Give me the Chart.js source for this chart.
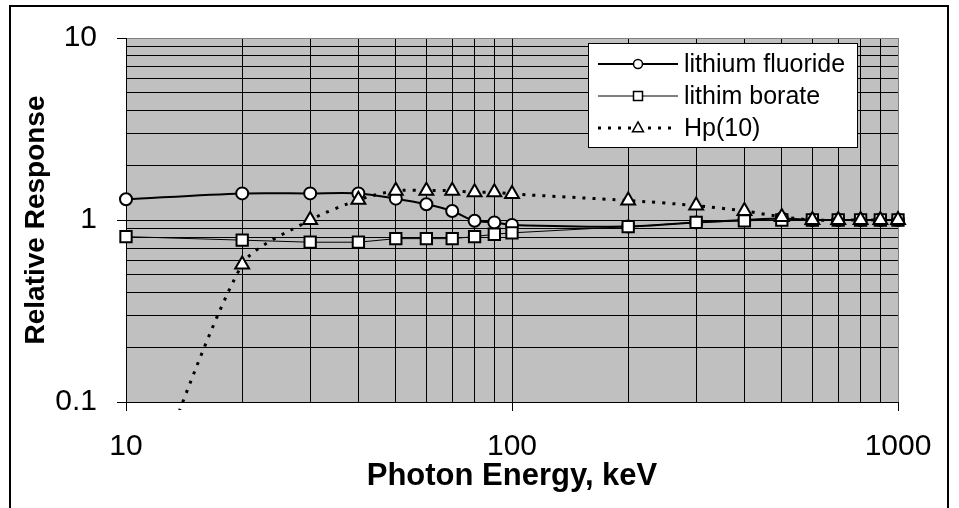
<!DOCTYPE html>
<html>
<head>
<meta charset="utf-8">
<script src="https://cdn.jsdelivr.net/npm/chart.js@4/dist/chart.umd.min.js"></script>
<style>
html, body { margin: 0; padding: 0; background: #fff; }
</style>
</head>
<body>
<canvas id="response" width="959" height="508"></canvas>
<script>
// photon energies (keV) and relative responses
const energies = [10, 20, 30, 40, 50, 60, 70, 80, 90, 100, 200, 300, 400, 500, 600, 700, 800, 900, 1000];
const lithiumFluoride = [1.30, 1.40, 1.40, 1.40, 1.31, 1.22, 1.12, 0.99, 0.97, 0.94, 0.92, 0.97, 1.00, 1.02, 1.00, 1.00, 1.00, 1.00, 1.00];
const lithimBorate = [0.81, 0.775, 0.755, 0.755, 0.79, 0.79, 0.79, 0.81, 0.835, 0.85, 0.92, 0.97, 0.99, 1.00, 1.00, 1.00, 1.00, 1.00, 1.00];
const hp10 = [0.015, 0.57, 1.00, 1.29, 1.45, 1.45, 1.45, 1.42, 1.42, 1.39, 1.28, 1.20, 1.12, 1.04, 1.00, 1.00, 1.00, 1.00, 1.00];
const seriesNames = ['lithium fluoride', 'lithim borate', 'Hp(10)'];
const xTickLabels = ['10', '100', '1000'];
const yTickLabels = ['0.1', '1', '10'];

const FONT = '"Liberation Sans", Arial, sans-serif';

// 1..9 x each decade, like the excel minor grid
function decadeTicks(min, max) {
    const out = [];
    for (let e = Math.round(Math.log10(min)); e < Math.round(Math.log10(max)); e++) {
        const base = Math.pow(10, e);
        for (let k = 1; k <= 9; k++) out.push(k === 1 ? base : k * base);
    }
    out.push(max);
    return out;
}
const isPow10 = v => Math.abs(Math.log10(v) - Math.round(Math.log10(v))) < 1e-9;

const toPoints = ys => energies.map((x, i) => ({ x: x, y: ys[i] }));

const marker = (ctx, style, x, y, r) => {
    ctx.beginPath();
    if (style === 'circle') {
        ctx.arc(x, y, r, 0, Math.PI * 2);
    } else if (style === 'rect') {
        ctx.rect(x - r, y - r, 2 * r, 2 * r);
    } else {
        ctx.moveTo(x, y - r * 1.1);
        ctx.lineTo(x + r, y + r * 0.7);
        ctx.lineTo(x - r, y + r * 0.7);
        ctx.closePath();
    }
    ctx.fill();
    ctx.stroke();
};

const framePlugin = {
    id: 'frame',
    beforeDraw(chart) {
        const { ctx, chartArea: a } = chart;
        ctx.save();
        ctx.fillStyle = '#fff';
        ctx.fillRect(0, 0, chart.width, chart.height);
        ctx.fillStyle = '#c0c0c0';
        ctx.fillRect(a.left, a.top, a.right - a.left, a.bottom - a.top);
        ctx.restore();
    },
    afterDraw(chart) {
        const ctx = chart.ctx;
        ctx.save();
        // outer chart border
        ctx.strokeStyle = '#000';
        ctx.lineWidth = 2;
        ctx.strokeRect(10, 6, 938, 520);

        // legend box
        ctx.fillStyle = '#fff';
        ctx.fillRect(588, 43, 269, 104);
        ctx.lineWidth = 1;
        ctx.strokeRect(588.5, 43.5, 269, 104);
        const legendStyles = [
            { w: 2, dash: [], shape: 'circle', r: 4.5 },
            { w: 1, dash: [], shape: 'rect', r: 4.5 },
            { w: 3, dash: [3, 7], shape: 'triangle', r: 5.5 }
        ];
        seriesNames.forEach((name, i) => {
            const y = 64 + i * 32;
            const s = legendStyles[i];
            ctx.strokeStyle = '#000';
            ctx.lineWidth = s.w;
            ctx.setLineDash(s.dash);
            ctx.beginPath();
            ctx.moveTo(598, y);
            ctx.lineTo(678, y);
            ctx.stroke();
            ctx.setLineDash([]);
            ctx.fillStyle = '#fff';
            ctx.lineWidth = 1.5;
            marker(ctx, s.shape, 638, y, s.r);
            ctx.fillStyle = '#000';
            ctx.font = '25px ' + FONT;
            ctx.textAlign = 'left';
            ctx.textBaseline = 'middle';
            ctx.fillText(name, 684, y + 1);
        });
        ctx.restore();
    }
};

const data = {
    datasets: [
        {
            label: seriesNames[0],
            data: toPoints(lithiumFluoride),
            borderColor: '#000',
            borderWidth: 2,
            tension: 0.3,
            pointStyle: 'circle',
            pointRadius: 6,
            pointBorderWidth: 2,
            pointBackgroundColor: '#fff',
            pointBorderColor: '#000',
            order: 2
        },
        {
            label: seriesNames[1],
            data: toPoints(lithimBorate),
            borderColor: '#000',
            borderWidth: 1,
            tension: 0,
            pointStyle: 'rect',
            pointRadius: 8,
            pointBorderWidth: 2,
            pointBackgroundColor: '#fff',
            pointBorderColor: '#000',
            order: 1
        },
        {
            label: seriesNames[2],
            data: toPoints(hp10),
            borderColor: '#000',
            borderWidth: 3,
            borderDash: [3, 7],
            tension: 0.25,
            pointStyle: 'triangle',
            pointRadius: 8,
            pointBorderWidth: 2,
            pointBackgroundColor: '#fff',
            pointBorderColor: '#000',
            order: 0
        }
    ]
};

const config = {
    type: 'line',
    data: data,
    options: {
        responsive: false,
        animation: false,
        devicePixelRatio: 1,
        clip: { left: 12, top: 12, right: 12, bottom: 8 },
        layout: {
            padding: { left: 0, top: 36, right: 61, bottom: 0 }
        },
        plugins: {
            legend: { display: false },
            tooltip: { enabled: false }
        },
        scales: {
            x: {
                type: 'logarithmic',
                min: 10,
                max: 1000,
                afterBuildTicks: s => { s.ticks = decadeTicks(10, 1000).map(v => ({ value: v })); },
                afterFit: s => { s.height = 106; },
                ticks: {
                    autoSkip: false,
                    maxRotation: 0,
                    padding: 18,
                    color: '#000',
                    font: { family: FONT, size: 30 },
                    callback: v => xTickLabels.includes(String(v)) ? String(v) : ''
                },
                grid: {
                    color: c => (c.tick && c.tick.value === 1000) ? '#808080' : '#000',
                    lineWidth: 1,
                    tickLength: 9,
                    tickColor: c => (c.tick && isPow10(c.tick.value)) ? '#000' : 'rgba(0,0,0,0)'
                },
                border: { color: '#000', width: 1 },
                title: {
                    display: true,
                    text: 'Photon Energy, keV',
                    color: '#000',
                    font: { family: FONT, size: 31, weight: 'bold' },
                    padding: { top: 0, bottom: 13 }
                }
            },
            y: {
                type: 'logarithmic',
                min: 0.1,
                max: 10,
                afterBuildTicks: s => { s.ticks = decadeTicks(0.1, 10).map(v => ({ value: v })); },
                afterFit: s => { s.width = 126; },
                ticks: {
                    autoSkip: false,
                    padding: 20,
                    color: '#000',
                    font: { family: FONT, size: 30 },
                    callback: v => yTickLabels.includes(String(v)) ? String(v) : ''
                },
                grid: {
                    color: c => (c.tick && c.tick.value === 10) ? '#808080' : '#000',
                    lineWidth: 1,
                    tickLength: 9,
                    tickColor: c => (c.tick && isPow10(c.tick.value)) ? '#000' : 'rgba(0,0,0,0)'
                },
                border: { color: '#000', width: 1 },
                title: {
                    display: true,
                    text: 'Relative Response',
                    color: '#000',
                    font: { family: FONT, size: 28, weight: 'bold' },
                    padding: { top: 19, bottom: 0 }
                }
            }
        }
    },
    plugins: [framePlugin]
};

const myChart = new Chart(document.getElementById('response'), config);
</script>
</body>
</html>
